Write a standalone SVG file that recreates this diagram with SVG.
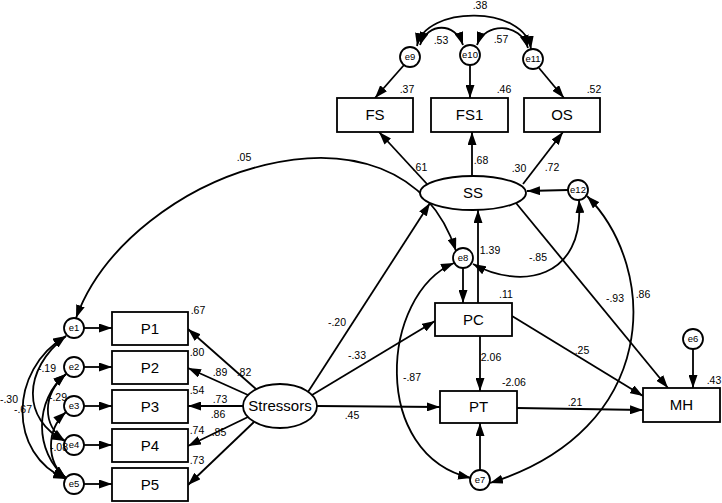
<svg xmlns="http://www.w3.org/2000/svg" width="722" height="503" viewBox="0 0 722 503">
<style>
.n rect,.n ellipse,.n circle{fill:#fff;stroke:#000;stroke-width:1.8}
.n text{font-family:"Liberation Sans",Arial,sans-serif;font-size:15px;text-anchor:middle;fill:#000}
.n.e text{font-size:9.5px}
#c path,#c line{fill:none;stroke:#000;stroke-width:1.8;marker-end:url(#a)}
#c .d{marker-start:url(#a)}
.l text{font-family:"Liberation Sans",Arial,sans-serif;font-size:10.5px;text-anchor:middle;fill:#000}
</style>
<defs>
<marker id="a" viewBox="0 0 13 9" refX="13" refY="4.5" markerWidth="13" markerHeight="9" markerUnits="userSpaceOnUse" orient="auto-start-reverse"><path d="M0,0L13,4.5L0,9z" fill="#000"/></marker>
</defs>
<rect width="722" height="503" fill="#fff"/>
<g id="c">
<line x1="404" y1="65" x2="375" y2="98"/>
<line x1="470" y1="65" x2="470" y2="98"/>
<line x1="539" y1="68" x2="564" y2="98"/>
<path class="d" d="M417,46 C425,5 525,5 531,49"/>
<path class="d" d="M420,45 C428,22 455,22 463,45"/>
<path class="d" d="M477,45 C485,22 520,22 528,48"/>
<line x1="427" y1="184" x2="379" y2="132"/>
<line x1="472" y1="176" x2="472" y2="132"/>
<line x1="523" y1="184" x2="563" y2="132"/>
<line x1="568" y1="190" x2="527" y2="191"/>
<line x1="308" y1="392" x2="430" y2="203"/>
<line x1="312" y1="395" x2="435" y2="321"/>
<line x1="317" y1="406" x2="440" y2="407"/>
<line x1="256" y1="389" x2="188" y2="329"/>
<line x1="248" y1="395" x2="188" y2="368"/>
<line x1="243" y1="406" x2="188" y2="406"/>
<line x1="248" y1="417" x2="188" y2="446"/>
<line x1="254" y1="422" x2="188" y2="485"/>
<line x1="84" y1="328" x2="112" y2="328"/>
<line x1="84" y1="367" x2="112" y2="367"/>
<line x1="84" y1="406" x2="112" y2="406"/>
<line x1="84" y1="445" x2="112" y2="445"/>
<line x1="84" y1="484" x2="112" y2="484"/>
<path class="d" d="M66,336 C8,370 8,455 66,479"/>
<path class="d" d="M66,336 C22,370 22,420 65,441"/>
<path class="d" d="M66,374 C34,400 34,452 66,478"/>
<path class="d" d="M66,374 C42,395 42,425 65,441"/>
<path class="d" d="M66,412 C46,430 46,462 66,478"/>
<path class="d" d="M76,318 C130,170 400,80 456,251"/>
<line x1="463" y1="268" x2="463" y2="303"/>
<line x1="478" y1="303" x2="478" y2="210"/>
<line x1="480" y1="336" x2="480" y2="391"/>
<line x1="480" y1="470" x2="480" y2="423"/>
<line x1="517" y1="408" x2="643" y2="410"/>
<line x1="512" y1="316" x2="643" y2="396"/>
<line x1="516" y1="203" x2="668" y2="388"/>
<line x1="693" y1="349" x2="693" y2="388"/>
<path class="d" d="M473,264 C520,290 585,280 579,200"/>
<path class="d" d="M454,263 C380,295 370,455 471,478"/>
<path class="d" d="M587,196 C660,270 660,430 490,483"/>
</g>
<g id="FS" class="n"><rect x="337" y="98" width="76" height="34"/><text x="375" y="120">FS</text></g>
<g id="FS1" class="n"><rect x="431" y="98" width="77" height="34"/><text x="469.5" y="120">FS1</text></g>
<g id="OS" class="n"><rect x="524" y="98" width="76" height="34"/><text x="562" y="120">OS</text></g>
<g id="SS" class="n"><ellipse cx="473" cy="193" rx="53" ry="17"/><text x="473" y="198">SS</text></g>
<g id="e9" class="n e"><circle cx="410" cy="57" r="10"/><text x="410" y="60">e9</text></g>
<g id="e10" class="n e"><circle cx="470" cy="55" r="10"/><text x="470" y="58">e10</text></g>
<g id="e11" class="n e"><circle cx="533" cy="59" r="10"/><text x="533" y="62">e11</text></g>
<g id="e12" class="n e"><circle cx="578" cy="190" r="10"/><text x="578" y="193">e12</text></g>
<g id="e8" class="n e"><circle cx="463" cy="258" r="10"/><text x="463" y="261">e8</text></g>
<g id="PC" class="n"><rect x="435" y="303" width="77" height="33"/><text x="473.5" y="325">PC</text></g>
<g id="PT" class="n"><rect x="440" y="391" width="77" height="32"/><text x="478.5" y="412">PT</text></g>
<g id="e7" class="n e"><circle cx="480" cy="480" r="10"/><text x="480" y="483">e7</text></g>
<g id="MH" class="n"><rect x="643" y="388" width="77" height="34"/><text x="681.5" y="410">MH</text></g>
<g id="e6" class="n e"><circle cx="693" cy="339" r="10"/><text x="693" y="342">e6</text></g>
<g id="Stressors" class="n"><ellipse cx="280" cy="406" rx="37" ry="22"/><text x="280" y="411">Stressors</text></g>
<g id="P1" class="n"><rect x="112" y="312" width="76" height="33"/><text x="150" y="334">P1</text></g>
<g id="P2" class="n"><rect x="112" y="351" width="76" height="33"/><text x="150" y="373">P2</text></g>
<g id="P3" class="n"><rect x="112" y="390" width="76" height="33"/><text x="150" y="412">P3</text></g>
<g id="P4" class="n"><rect x="112" y="429" width="76" height="33"/><text x="150" y="451">P4</text></g>
<g id="P5" class="n"><rect x="112" y="468" width="76" height="33"/><text x="150" y="490">P5</text></g>
<g id="e1" class="n e"><circle cx="74" cy="328" r="10"/><text x="74" y="331">e1</text></g>
<g id="e2" class="n e"><circle cx="74" cy="367" r="10"/><text x="74" y="370">e2</text></g>
<g id="e3" class="n e"><circle cx="74" cy="406" r="10"/><text x="74" y="409">e3</text></g>
<g id="e4" class="n e"><circle cx="74" cy="445" r="10"/><text x="74" y="448">e4</text></g>
<g id="e5" class="n e"><circle cx="74" cy="484" r="10"/><text x="74" y="487">e5</text></g>
<g id="labels" class="l">
<text x="480" y="9">.38</text>
<text x="441" y="44">.53</text>
<text x="501" y="43">.57</text>
<text x="407" y="93">.37</text>
<text x="504" y="93">.46</text>
<text x="594" y="93">.52</text>
<text x="420" y="171">.61</text>
<text x="481" y="164">.68</text>
<text x="519" y="172">.30</text>
<text x="552" y="171">.72</text>
<text x="244" y="161">.05</text>
<text x="490" y="254">1.39</text>
<text x="538" y="261">-.85</text>
<text x="506" y="298">.11</text>
<text x="491" y="361">2.06</text>
<text x="514" y="386">-2.06</text>
<text x="412" y="381">-.87</text>
<text x="337" y="326">-.20</text>
<text x="357" y="359">-.33</text>
<text x="352" y="419">.45</text>
<text x="582" y="354">.25</text>
<text x="575" y="406">.21</text>
<text x="615" y="302">-.93</text>
<text x="643" y="298">.86</text>
<text x="714" y="384">.43</text>
<text x="198" y="314">.67</text>
<text x="197" y="356">.80</text>
<text x="220" y="376">.89</text>
<text x="244" y="376">.82</text>
<text x="197" y="394">.54</text>
<text x="220" y="403">.73</text>
<text x="218" y="418">.86</text>
<text x="197" y="434">.74</text>
<text x="219" y="436">.85</text>
<text x="197" y="464">.73</text>
<text x="9" y="403">-.30</text>
<text x="23" y="413">-.67</text>
<text x="47" y="372">-.19</text>
<text x="58" y="401">-.29</text>
<text x="59" y="451">-.08</text>
</g>
</svg>
